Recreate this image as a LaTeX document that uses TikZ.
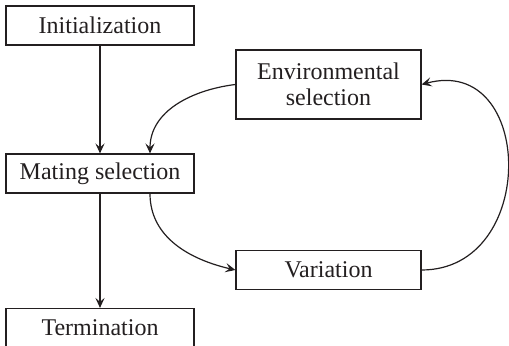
\documentclass[tikz,border=0pt]{standalone}
\usepackage{fontspec}
\setmainfont{Liberation Serif}
\usepackage{tikz}
\usetikzlibrary{arrows.meta, positioning}
\definecolor{Ink}{HTML}{231F20}
\tikzset{
  box/.style={
    rectangle, draw=Ink, line width=0.6pt,
    minimum width=#1, minimum height=19.5pt,
    align=center, inner sep=2pt, text=Ink,
    font=\fontsize{12}{13}\selectfont
  },
  box/.default=94pt,
  arr/.style={-{Stealth[length=5pt, width=4.6pt, inset=2pt]}, line width=0.6pt, color=Ink},
}
\begin{document}
\begin{tikzpicture}[x=0.5pt, y=-0.5pt]
\useasboundingbox (0,0) rectangle (509,346);

% Main column on the left
\node[box] at (100,25.5) (init) {Initialization};
\node[box] at (100,173.5) (mate) {Mating selection};
\node[box] at (100,328) (term) {Termination};

% Loop boxes on the right
\node[box=92.5pt, minimum height=34.5pt] at (328.5,84.5) (env) {Environmental\\selection};
\node[box=92.5pt] at (328.5,270) (var) {Variation};

% Connectors
\draw[arr] (init) -- (mate);
\draw[arr] (mate) -- (term);
\draw[arr] (env.west) to[out=187, in=90] ([xshift=25pt]mate.north);
\draw[arr] ([xshift=25pt]mate.south) to[out=-90, in=167] (var.west);
\draw[arr] (var.east) to[out=0, in=15, looseness=1.62] (env.east);

\end{tikzpicture}
\end{document}
